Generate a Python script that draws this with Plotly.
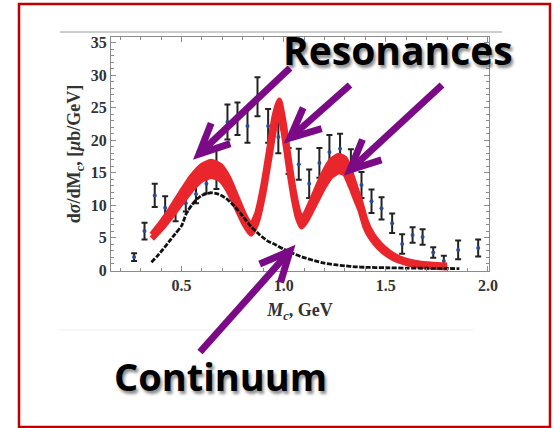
import math
import plotly.graph_objects as go

# ---- measured cross-section points (GeV, ub/GeV) ----
data_m = [0.268, 0.319, 0.369, 0.420, 0.471, 0.521, 0.571, 0.622, 0.671, 0.725,
          0.774, 0.823, 0.872, 0.924, 0.974, 1.024, 1.074, 1.125, 1.175, 1.224,
          1.276, 1.329, 1.381, 1.430, 1.479, 1.531, 1.580, 1.631, 1.680, 1.732,
          1.784, 1.854, 1.952]
data_xs = [2.0, 6.0, 11.5, 9.6, 9.0, 10.3, 11.7, 13.3, 15.5, 22.8,
           23.3, 22.2, 26.7, 22.2, 20.5, 16.8, 16.3, 13.3, 16.5, 18.2,
           18.7, 16.2, 13.1, 10.6, 9.5, 7.2, 4.0, 5.4, 5.1, 2.7,
           1.4, 3.1, 3.4]
data_err = [0.6, 1.3, 1.8, 1.75, 1.5, 1.3, 1.4, 1.5, 3.0, 2.7,
            2.5, 2.6, 3.0, 2.6, 2.5, 2.0, 2.4, 2.2, 2.3, 2.6,
            2.3, 2.4, 2.0, 1.8, 1.7, 1.5, 1.5, 1.2, 1.2, 0.8,
            0.8, 1.45, 1.3]

# ---- resonance model band: lower and upper edges ----
band_m = [0.355, 0.40, 0.45, 0.50, 0.55, 0.60, 0.645, 0.69, 0.73, 0.77,
          0.81, 0.84, 0.87, 0.90, 0.93, 0.955, 0.978, 1.00, 1.025, 1.05,
          1.07, 1.088, 1.11, 1.15, 1.19, 1.23, 1.27, 1.30, 1.33, 1.355,
          1.375, 1.40, 1.42, 1.45, 1.49, 1.54, 1.59, 1.65, 1.73, 1.80]
band_lo = [4.85, 6.35, 8.3, 10.4, 12.45, 13.95, 14.5, 13.95, 12.25, 9.6,
           7.0, 5.6, 7.5, 11.6, 17.2, 21.95, 24.3, 21.15, 15.75, 10.85,
           8.0, 6.7, 7.6, 10.0, 12.5, 14.45, 15.2, 14.85, 12.8, 10.8,
           9.25, 6.65, 5.35, 4.05, 2.8, 1.78, 1.17, 0.72, 0.5, 0.4]
band_hi = [5.45, 7.25, 9.5, 12.0, 14.35, 16.05, 16.7, 16.05, 14.15, 11.2,
           8.3, 6.8, 8.7, 13.0, 18.8, 23.65, 26.1, 22.85, 17.25, 12.15,
           9.2, 7.8, 8.8, 11.6, 14.5, 16.75, 17.6, 17.15, 14.8, 12.4,
           10.55, 7.75, 6.25, 4.75, 3.4, 2.22, 1.53, 1.08, 0.8, 0.7]

# ---- continuum curve ----
cont_m = [0.353, 0.38, 0.41, 0.44, 0.47, 0.50, 0.525, 0.55, 0.575, 0.60,
          0.64, 0.68, 0.72, 0.76, 0.80, 0.84, 0.88, 0.92, 0.96, 1.00,
          1.05, 1.10, 1.15, 1.20, 1.25, 1.30, 1.35, 1.40, 1.50, 1.60,
          1.70, 1.78, 1.86]
cont_xs = [1.2, 2.1, 3.2, 4.4, 5.6, 6.8, 8.8, 10.0, 10.9, 11.5,
           11.9, 11.7, 11.0, 9.8, 8.3, 6.7, 5.5, 4.5, 3.9, 3.2,
           2.5, 1.9, 1.45, 1.05, 0.82, 0.65, 0.5, 0.42, 0.35, 0.3,
           0.27, 0.25, 0.22]

x_ticks = [0.5, 1.0, 1.5, 2.0]
y_ticks = [0, 5, 10, 15, 20, 25, 30, 35]

W, H = 554, 428
PL, PR, PT, PB = 111, 489, 37, 271   # plot-area edges in pixels

RED = "#e8262b"
PURPLE = "#7a0a85"
SERIF = "Liberation Serif"

fig = go.Figure()

fig.add_trace(go.Scatter(
    x=data_m, y=data_xs, mode="markers",
    marker=dict(size=4, color="#2b4c9b"),
    error_y=dict(type="data", array=data_err, visible=True,
                 color="#222222", thickness=2, width=3),
    showlegend=False, hoverinfo="skip"))

fig.add_trace(go.Scatter(
    x=band_m, y=band_lo, mode="lines",
    line=dict(color=RED, width=6, shape="spline", smoothing=0.5),
    showlegend=False, hoverinfo="skip"))
fig.add_trace(go.Scatter(
    x=band_m, y=band_hi, mode="lines", fill="tonexty", fillcolor=RED,
    line=dict(color=RED, width=6, shape="spline", smoothing=0.5),
    showlegend=False, hoverinfo="skip"))

fig.add_trace(go.Scatter(
    x=cont_m, y=cont_xs, mode="lines",
    line=dict(color="#111111", width=2.8, dash="5px,1.5px",
              shape="spline", smoothing=0.6),
    showlegend=False, hoverinfo="skip"))


def px(xp):
    return (xp - PL) / (PR - PL)


def py(yp):
    return (PB - yp) / (PB - PT)


shapes = []

# slide frame and image edges
shapes.append(dict(type="rect", xref="paper", yref="paper",
                   x0=px(19), x1=px(550), y0=py(427), y1=py(4),
                   line=dict(color="#c00000", width=2.5), layer="above"))
shapes.append(dict(type="line", xref="paper", yref="paper",
                   x0=px(60), x1=px(502), y0=py(32), y1=py(32),
                   line=dict(color="#9a9a9a", width=1), layer="below"))
shapes.append(dict(type="line", xref="paper", yref="paper",
                   x0=px(58), x1=px(473), y0=py(330), y1=py(330),
                   line=dict(color="#eeeeee", width=1), layer="below"))


def arrow(tail, tip, wing=33, spread=25):
    bx, by = tail[0] - tip[0], tail[1] - tip[1]
    ang = math.atan2(by, bx)
    pts = []
    for s in (-spread, spread):
        a = ang + math.radians(s)
        pts.append((tip[0] + wing * math.cos(a), tip[1] + wing * math.sin(a)))
    shaft = f"M{px(tail[0])},{py(tail[1])} L{px(tip[0])},{py(tip[1])}"
    head = (f"M{px(pts[0][0])},{py(pts[0][1])} L{px(tip[0])},{py(tip[1])} "
            f"L{px(pts[1][0])},{py(pts[1][1])}")
    for p in (shaft, head):
        shapes.append(dict(type="path", xref="paper", yref="paper", path=p,
                           line=dict(color=PURPLE, width=7), layer="above"))


arrow((290, 68), (199, 154))
arrow((350, 85), (290, 138))
arrow((442, 85), (350, 170))
arrow((200, 352), (290, 251))

shadow = "2px 3px 3px rgba(0,0,0,0.45)"
annotations = [
    dict(text="<b>Resonances</b>", xref="paper", yref="paper",
         x=px(398), y=py(49), xanchor="center", yanchor="middle",
         showarrow=False,
         font=dict(family="Open Sans", size=39, color="#000000", shadow=shadow)),
    dict(text="<b>Continuum</b>", xref="paper", yref="paper",
         x=px(220), y=py(376), xanchor="center", yanchor="middle",
         showarrow=False,
         font=dict(family="Open Sans", size=38, color="#000000", shadow=shadow)),
]

axis_common = dict(
    showline=True, linecolor="#8c8c8c", linewidth=1, mirror="allticks",
    ticks="inside", ticklen=5, tickcolor="#8c8c8c", tickwidth=1,
    showgrid=False, zeroline=False,
    tickfont=dict(family=SERIF, size=16, color="#333333", weight="bold"),
)

fig.update_layout(
    width=W, height=H,
    margin=dict(l=PL, r=W - PR, t=PT, b=H - PB, pad=0),
    paper_bgcolor="white", plot_bgcolor="white",
    shapes=shapes, annotations=annotations,
    xaxis=dict(range=[0.155, 2.005], tickvals=x_ticks,
               ticktext=[f"{v:.1f}" for v in x_ticks],
               minor=dict(dtick=0.1, ticks="inside", ticklen=3,
                          tickcolor="#8c8c8c", showgrid=False),
               title=dict(text="<i>M<sub>c</sub></i>, GeV", standoff=10,
                          font=dict(family=SERIF, size=18, color="#333333",
                                    weight="bold")),
               **axis_common),
    yaxis=dict(range=[-0.15, 35.9], tickvals=y_ticks,
               minor=dict(dtick=1, ticks="inside", ticklen=3,
                          tickcolor="#8c8c8c", showgrid=False),
               title=dict(text="d<i>σ</i>/dM<sub>c</sub>, [<i>μ</i>b/GeV]",
                          standoff=5,
                          font=dict(family=SERIF, size=18, color="#333333",
                                    weight="bold")),
               **axis_common),
)

fig.write_html("out.html")
